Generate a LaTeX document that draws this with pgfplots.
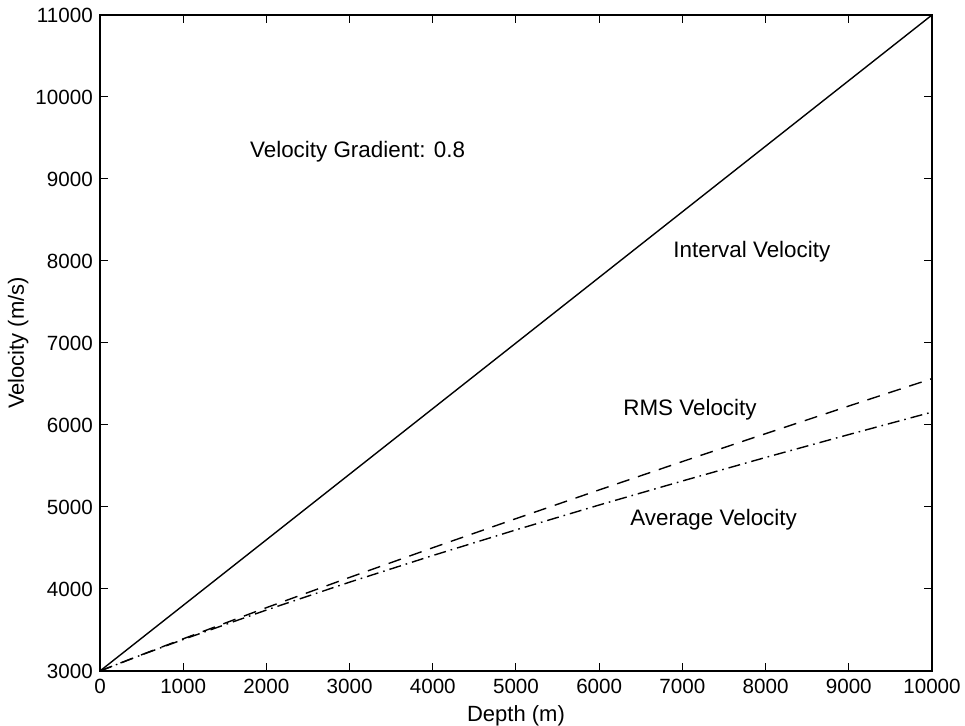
\documentclass[border=0pt]{standalone}
\usepackage{fontspec}
\setmainfont{Liberation Sans}
\usepackage{pgfplots}
\pgfplotsset{compat=1.18}
\begin{document}
\fontsize{10.3}{12.3}\selectfont
\begin{tikzpicture}
\begin{axis}[
  name=ax,
  scale only axis,
  width=416pt, height=328pt,
  xmin=0, xmax=10000, ymin=3000, ymax=11000,
  xtick={0,1000,...,10000},
  ytick={3000,4000,...,11000},
  scaled ticks=false,
  /pgf/number format/assume math mode=true,
  /pgf/number format/set thousands separator={},
  tick align=inside,
  major tick length=4pt,
  tick style={black, line width=0.5pt},
  axis line style={line width=0.7pt},
  ticklabel style={font=\fontsize{10.3}{12.3}\selectfont},
  xticklabel style={yshift=-0.5pt},
  xlabel={Depth (m)},
  ylabel={Velocity (m/s)},
  label style={font=\fontsize{11}{13}\selectfont},
  xlabel style={yshift=1pt},
  ylabel style={yshift=-3.5pt},
  clip=false,
]
\addplot[black, line width=0.7pt] coordinates {(0,3000) (10000,11000)};
\addplot[black, line width=0.7pt, dash pattern=on 6.5pt off 4.5pt] coordinates {
(0,3000) (500,3198) (1000,3392) (2000,3772) (3000,4141) (4000,4503) (5000,4858)
(6000,5208) (7000,5554) (8000,5894) (9000,6231) (10000,6565)};
\addplot[black, line width=0.7pt, dash pattern=on 6pt off 2.5pt on 0.8pt off 2.5pt] coordinates {
(0,3000) (500,3196) (1000,3384) (2000,3743) (3000,4083) (4000,4408) (5000,4721)
(6000,5024) (7000,5317) (8000,5604) (9000,5883) (10000,6157)};
\node[anchor=west, inner sep=0pt, font=\fontsize{11.2}{13}\selectfont] at (axis cs:1800,9330) {Velocity Gradient: 0.8};
\node[anchor=west, inner sep=0pt, font=\fontsize{11.2}{13}\selectfont] at (axis cs:6887,8110) {Interval Velocity};
\node[anchor=west, inner sep=0pt, font=\fontsize{11.2}{13}\selectfont] at (axis cs:6286,6183) {RMS Velocity};
\node[anchor=west, inner sep=0pt, font=\fontsize{11.2}{13}\selectfont] at (axis cs:6370,4841) {Average Velocity};
\end{axis}
\pgfresetboundingbox
\path[use as bounding box] ([shift={(-50pt,-27.5pt)}]ax.south west) rectangle ([shift={(16.5pt,7.5pt)}]ax.north east);
\end{tikzpicture}
\end{document}
